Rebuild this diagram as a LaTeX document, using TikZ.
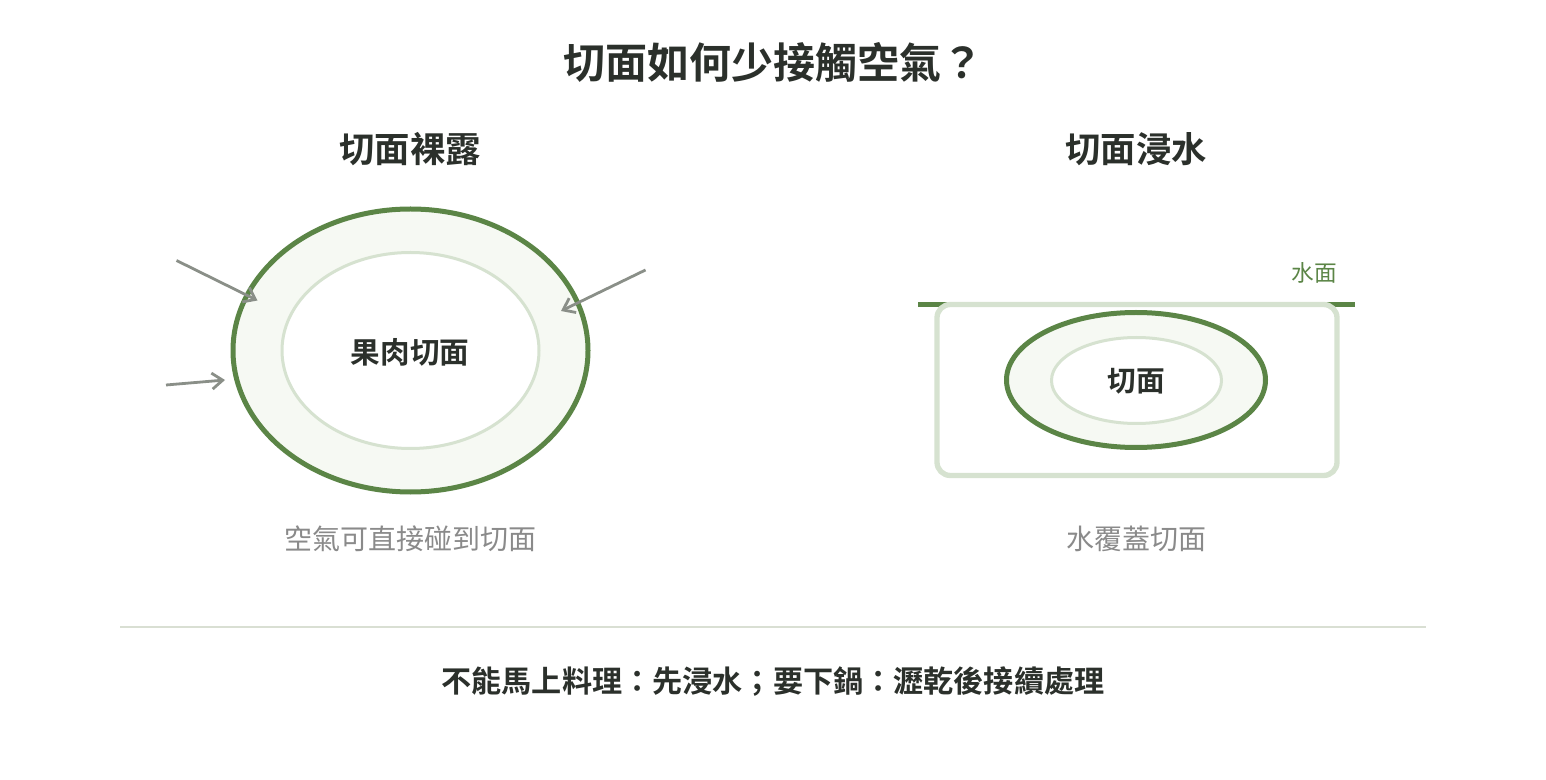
\documentclass[tikz,border=0pt]{standalone}
\usepackage{fontspec}
\setmainfont{Noto Sans CJK TC}[BoldFont={Noto Sans CJK TC Bold}]
\usepackage{xcolor}
\usepackage{tikz}
\usetikzlibrary{arrows.meta}

\definecolor{leafgreen}{HTML}{5B8546}
\definecolor{palegreen}{HTML}{D6E2D0}
\definecolor{pulpfill}{HTML}{F6F9F3}
\definecolor{airgray}{HTML}{8A8F88}
\definecolor{capgray}{HTML}{8A8A8A}
\definecolor{inkdark}{HTML}{2B302B}
\definecolor{rulegray}{HTML}{D9DFD3}

\begin{document}
\begin{tikzpicture}[x=0.75pt,y=0.75pt,yscale=-1,xscale=1,
  airarrow/.style={draw=airgray,line width=2.1pt,-{Straight Barb[length=8pt,width=12pt]}},
  rind/.style={draw=leafgreen,line width=3.75pt,fill=pulpfill},
  pulp/.style={draw=palegreen,line width=2.25pt,fill=white}]
\useasboundingbox (0,0) rectangle (1546,780);

% Text Node
\draw (773,62) node (title) [inner sep=0.75pt,text=inkdark,font=\fontsize{31.5pt}{36pt}\selectfont\bfseries] {切面如何少接觸空氣？};
% Text Node
\draw (410,149) node (leftTitle) [inner sep=0.75pt,text=inkdark,font=\fontsize{26.5pt}{30pt}\selectfont\bfseries] {切面裸露};
% Text Node
\draw (1136,149) node (rightTitle) [inner sep=0.75pt,text=inkdark,font=\fontsize{26.5pt}{30pt}\selectfont\bfseries] {切面浸水};

%Shape: Ellipse [id:leftRind]
\draw [rind] (410.5,350.5) ellipse [x radius=177.5, y radius=141.5];
%Shape: Ellipse [id:leftPulp]
\draw [pulp] (410.5,350.5) ellipse [x radius=128.5, y radius=98];
% Text Node
\draw (410,352) node (leftCut) [inner sep=0.75pt,text=inkdark,font=\fontsize{22.2pt}{25pt}\selectfont\bfseries] {果肉切面};

%Straight Lines [id:airOne]
\coordinate (airOneS) at (176.5,260.5);
\coordinate (airOneE) at (257.5,300.5);
\draw [airarrow] (airOneS) -- (airOneE);
%Straight Lines [id:airTwo]
\coordinate (airTwoS) at (645.5,270);
\coordinate (airTwoE) at (561,311);
\draw [airarrow] (airTwoS) -- (airTwoE);
%Straight Lines [id:airThree]
\coordinate (airThreeS) at (166,385);
\coordinate (airThreeE) at (225,380);
\draw [airarrow] (airThreeS) -- (airThreeE);

%Straight Lines [id:waterLine]
\coordinate (waterL) at (918,304.5);
\coordinate (waterR) at (1355,304.5);
\draw [draw=leafgreen,line width=3.75pt] (waterL) -- (waterR);
%Shape: Rectangle [id:waterBox]
\draw [draw=palegreen,line width=4pt,rounded corners=10pt] (937,304.5) rectangle (1337,475.5);
% Text Node
\draw (1314,273) node (waterLabel) [inner sep=0.75pt,text=leafgreen,font=\fontsize{17pt}{20pt}\selectfont] {水面};

%Shape: Ellipse [id:rightRind]
\draw [rind] (1136,380) ellipse [x radius=129.5, y radius=67.5];
%Shape: Ellipse [id:rightPulp]
\draw [pulp] (1136.5,380.5) ellipse [x radius=85, y radius=43];
% Text Node
\draw (1136,381) node (rightCut) [inner sep=0.75pt,text=inkdark,font=\fontsize{21.5pt}{24pt}\selectfont\bfseries] {切面};

% Text Node
\draw (410,539) node (leftCaption) [inner sep=0.75pt,text=capgray,font=\fontsize{21pt}{24pt}\selectfont] {空氣可直接碰到切面};
% Text Node
\draw (1136,539) node (rightCaption) [inner sep=0.75pt,text=capgray,font=\fontsize{21pt}{24pt}\selectfont] {水覆蓋切面};

%Straight Lines [id:divider]
\coordinate (ruleL) at (120,627);
\coordinate (ruleR) at (1426,627);
\draw [draw=rulegray,line width=1.5pt] (ruleL) -- (ruleR);

% Text Node
\draw (773,682) node (tip) [inner sep=0.75pt,text=inkdark,font=\fontsize{22.6pt}{26pt}\selectfont\bfseries] {不能馬上料理：先浸水；要下鍋：瀝乾後接續處理};

\end{tikzpicture}
\end{document}
